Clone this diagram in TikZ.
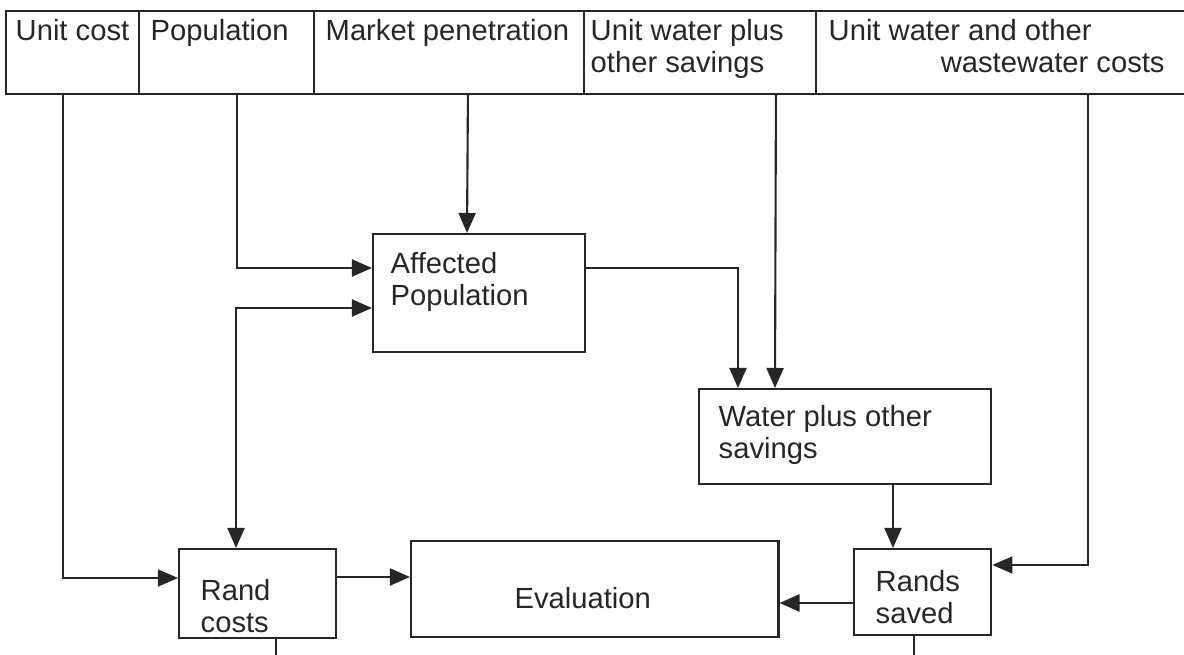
\documentclass[tikz,border=0pt]{standalone}
\usepackage{fontspec}
\setmainfont{Liberation Sans}
\usetikzlibrary{arrows.meta}

\tikzset{
  cell/.style={draw=black!85, line width=0.5pt, anchor=north west, inner sep=0pt, minimum height=0.83cm},
  box/.style={draw=black!85, line width=0.65pt, anchor=north west, inner sep=0pt},
  txt/.style={anchor=north west, align=left, inner sep=0pt, font=\fontsize{8.3}{8.9}\selectfont, text=black!85},
  tip/.style={-{Triangle[length=2mm,width=1.7mm]}},
  link/.style={draw=black!85, line width=0.6pt, tip},
  thin link/.style={link, line width=0.4pt},
  feed/.style={draw=black!85, line width=0.45pt}
}

\begin{document}
\begin{tikzpicture}[x=0.01cm, y=-0.01cm]
    \useasboundingbox (0,0) rectangle (1184,655);

    % Input bar along the top
    \node[cell, minimum width=1.33cm] (unitcost) at (5,10) {};
    \node[cell, minimum width=1.75cm] (population) at (138,10) {};
    \node[cell, minimum width=2.70cm] (market) at (313,10) {};
    \node[cell, minimum width=2.32cm] (unitsave) at (583,10) {};
    \node[cell, minimum width=3.80cm] (unitwaste) at (815,10) {};
    \node[txt] at ([shift={(10,9)}]unitcost.north west) {Unit cost};
    \node[txt] at ([shift={(12,9)}]population.north west) {Population};
    \node[txt] at ([shift={(12,9)}]market.north west) {Market penetration};
    \node[txt] at ([shift={(7,9)}]unitsave.north west) {Unit water plus\\other savings};
    \node[txt] at ([shift={(13,9)}]unitwaste.north west) {Unit water and other\\\hspace*{1.12cm}wastewater costs};

    % Boxes
    \node[box, minimum width=2.12cm, minimum height=1.18cm] (affected) at (372,233) {};
    \node[box, minimum width=2.92cm, minimum height=0.95cm] (watersave) at (698,388) {};
    \node[box, minimum width=1.37cm, minimum height=0.86cm] (randssaved) at (853,548) {};
    \node[box, minimum width=3.67cm, minimum height=0.96cm] (evaluation) at (410,540) {};
    \node[box, minimum width=1.57cm, minimum height=0.89cm] (randcosts) at (178,548) {};

    % Box texts
    \node[txt] at ([shift={(18,19)}]affected.north west) {Affected\\Population};
    \node[txt] at ([shift={(20,17)}]watersave.north west) {Water plus other\\savings};
    \node[txt] at ([shift={(22,22)}]randssaved.north west) {Rands\\saved};
    \node[txt] at ([shift={(22,31)}]randcosts.north west) {Rand\\costs};
    \node[txt, anchor=center] at ([shift={(-12,9)}]evaluation.center) {Evaluation};

    % Inputs down into the boxes
    \draw[thin link] ([shift={(-9.5,0)}]unitcost.south) |- ([shift={(0,30)}]randcosts.north west);
    \draw[link] ([shift={(10.5,0)}]population.south) |- ([shift={(0,35)}]affected.north west);
    \draw[link] ([shift={(19,0)}]market.south) -- ([shift={(95,0)}]affected.north west);
    \draw[link] ([shift={(76,0)}]unitsave.south) -- ([shift={(77,0)}]watersave.north west);
    \draw[thin link] ([shift={(82,0)}]unitwaste.south) |- ([shift={(0,17)}]randssaved.north east);

    % Flows between boxes
    \draw[link] ([shift={(0,35)}]affected.north east) -| ([shift={(40,0)}]watersave.north west);
    \draw[link, {Triangle[length=2mm,width=1.7mm]}-{Triangle[length=2mm,width=1.7mm]}]
        ([shift={(0,75)}]affected.north west) -| ([shift={(58,0)}]randcosts.north west);
    \draw[link] ([shift={(195,0)}]watersave.south west) -- ([shift={(40,0)}]randssaved.north west);
    \draw[link] ([shift={(0,29)}]randcosts.north east) -- ([shift={(0,37)}]evaluation.north west);
    \draw[link] ([shift={(0,55)}]randssaved.north west) -- ([shift={(0,63)}]evaluation.north east);

    % Lines running on below
    \draw[feed] ([shift={(18.5,0)}]randcosts.south) -- +(0,40);
    \draw[feed] ([shift={(-8.5,0)}]randssaved.south) -- +(0,40);
\end{tikzpicture}
\end{document}
